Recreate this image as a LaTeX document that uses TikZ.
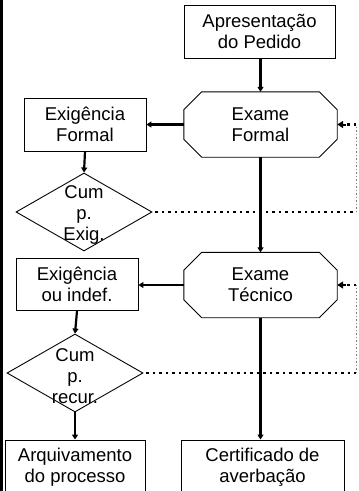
\documentclass[tikz,border=0pt]{standalone}
\usepackage{fontspec}
\setmainfont{Liberation Sans}
\usetikzlibrary{arrows.meta,shapes.geometric}
\newcommand\octoline[1]{%
  \draw[line width=0.9pt] ([xshift=18pt]#1.north west) -- ([xshift=-18pt]#1.north east) -- ([yshift=-18pt]#1.north east) -- ([yshift=18pt]#1.south east) -- ([xshift=-18pt]#1.south east) -- ([xshift=18pt]#1.south west) -- ([yshift=18pt]#1.south west) -- ([yshift=-18pt]#1.north west) -- cycle;}
\begin{document}
\begin{tikzpicture}[x=1pt,y=-1pt,
  lbl/.style={font=\fontsize{18.5}{21}\selectfont,align=center,inner sep=0pt},
  box/.style={lbl,draw,line width=0.9pt},
  oct/.style={lbl,draw=none,minimum width=153pt,minimum height=65pt},
  dia/.style={diamond,draw,line width=0.9pt,inner sep=0pt,minimum width=136pt,minimum height=78pt},
  conn/.style={line width=2.2pt,-{Triangle[length=5pt,width=6pt]}},
  dots/.style={line width=2.4pt,line cap=butt,dash pattern=on 2.4pt off 4.1pt},
  vdots/.style={line width=0.7pt,gray,dash pattern=on 1.5pt off 2pt},
  tipfb/.style={line width=2pt,-{Triangle[length=6pt,width=7pt]}}]
\useasboundingbox (0,0) rectangle (359,491);
\clip (0,0) rectangle (359,491);
\fill[white] (0,0) rectangle (359,491);
% left border
\fill[black] (0,0) rectangle (3,491);
% nodes
\node[box,minimum width=151pt,minimum height=53pt] (apres) at (259.5,31.5) {Apresentação\\do Pedido};
\node[oct] (exf) at (260.5,124.5) {Exame\\Formal};
\octoline{exf}
\node[box,minimum width=122pt,minimum height=53pt] (exigf) at (85,124.5) {Exigência\\Formal};
\node[dia] (d1) at (84,212) {};
\node[lbl] (d1t) at (84,215) {Cum\\p.\\Exig.};
\node[oct] (ext) at (260.5,285) {Exame\\Técnico};
\octoline{ext}
\node[box,minimum width=122pt,minimum height=52pt] (exigi) at (77,284.5) {Exigência\\ou indef.};
\node[dia] (d2) at (75,373) {};
\node[lbl] (d2t) at (75,376) {Cum\\p.\\recur.};
\node[box,minimum width=140pt,minimum height=54pt] (arq) at (75,467) {Arquivamento\\do processo};
\node[box,minimum width=163pt,minimum height=54pt] (cert) at (262.5,467) {Certificado de\\averbação};
% connectors
\draw[conn] (apres.south -| exf.north) -- (exf.north);
\draw[conn] (exf.west) -- (exigf.east);
\draw[conn] (exigf.south) -- (d1.north);
\draw[conn] (exf.south) -- (ext.north);
\draw[conn] (ext.west) -- (ext.west -| exigi.east);
\draw[conn] (exigi.south) -- (d2.north);
\draw[conn] (d2.south) -- (arq.north);
\draw[conn] (ext.south) -- (ext.south |- cert.north);
% feedback loops
\coordinate (c1) at (356,212);
\coordinate (c2) at (356,124.5);
\coordinate (c3) at (356,373);
\coordinate (c4) at (356,285);
\draw[dots] ([xshift=3pt]d1.east) -- (c1);
\draw[vdots] (c1) -- (c2);
\draw[dots] (c2) -- ([xshift=8pt]exf.east);
\draw[tipfb] ([xshift=9pt]exf.east) -- (exf.east);
\draw[dots] ([xshift=3pt]d2.east) -- (c3);
\draw[vdots] (c3) -- (c4);
\draw[dots] (c4) -- ([xshift=8pt]ext.east);
\draw[tipfb] ([xshift=9pt]ext.east) -- (ext.east);
\end{tikzpicture}
\end{document}
